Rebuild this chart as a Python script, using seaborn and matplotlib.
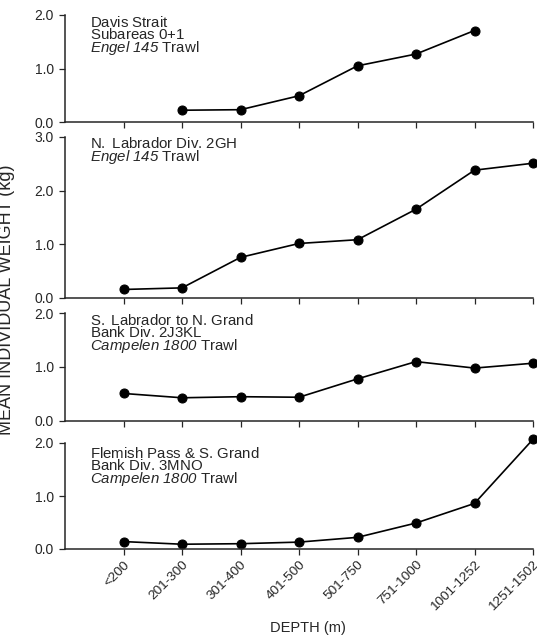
import numpy as np
import pandas as pd
import matplotlib
matplotlib.use("Agg")
import matplotlib.pyplot as plt
import seaborn as sns

# Depth strata (m)
depth_classes = ["<200", "201-300", "301-400", "401-500", "501-750",
                 "751-1000", "1001-1252", "1251-1502"]

# Mean individual weight (kg) by depth stratum for each survey area
davis_strait = [np.nan, 0.22, 0.23, 0.49, 1.05, 1.27, 1.71, np.nan]
n_labrador = [0.15, 0.18, 0.75, 1.01, 1.08, 1.65, 2.38, 2.51]
s_labrador = [0.51, 0.43, 0.45, 0.44, 0.78, 1.10, 0.98, 1.07]
flemish_pass = [0.14, 0.09, 0.10, 0.13, 0.22, 0.49, 0.86, 2.07]

# Area captions. Every line carries a mathtext part so that all lines share
# the same metrics; \mathbf is mapped to the italic face for the gear names.
panel_titles = [
    r"$\mathrm{Davis}$ Strait" "\n"
    r"$\mathrm{Subareas}$ 0+1" "\n"
    r"$\mathbf{Engel\ 145}$ Trawl",
    r"$\mathrm{N.}$ Labrador Div. 2GH" "\n"
    r"$\mathbf{Engel\ 145}$ Trawl",
    r"$\mathrm{S.}$ Labrador to N. Grand" "\n"
    r"$\mathrm{Bank}$ Div. 2J3KL" "\n"
    r"$\mathbf{Campelen\ 1800}$ Trawl",
    r"$\mathrm{Flemish}$ Pass & S. Grand" "\n"
    r"$\mathrm{Bank}$ Div. 3MNO" "\n"
    r"$\mathbf{Campelen\ 1800}$ Trawl",
]
y_ticks = [[0, 1, 2], [0, 1, 2, 3], [0, 1, 2], [0, 1, 2]]
y_limits = [(0, 2), (0, 3), (0, 2), (0, 2)]

sns.set_style("ticks")
plt.rcParams["font.family"] = ["Liberation Sans", "DejaVu Sans"]
plt.rcParams["mathtext.fontset"] = "custom"
plt.rcParams["mathtext.rm"] = "Liberation Sans"
plt.rcParams["mathtext.it"] = "Liberation Sans:italic"
plt.rcParams["mathtext.bf"] = "Liberation Sans:italic"

W, H = 537, 636
fig = plt.figure(figsize=(W / 100, H / 100), dpi=100)

# Panel extents in pixels: (top, bottom)
extents = [(15, 122), (137, 297.5), (313, 421), (443, 549)]
left_px, right_px = 65, 533
# Baseline of the last caption line in each panel
last_baselines = [52, 161, 350, 483]

series = [davis_strait, n_labrador, s_labrador, flemish_pass]
for i, vals in enumerate(series):
    top, bot = extents[i]
    ax = fig.add_axes([left_px / W, 1 - bot / H, (right_px - left_px) / W, (bot - top) / H])
    df = pd.DataFrame({"pos": np.arange(len(depth_classes)), "weight": vals})
    sns.lineplot(data=df, x="pos", y="weight", ax=ax, color="black",
                 marker="o", markersize=6.5, markeredgecolor="black",
                 linewidth=1.2)
    for ln in ax.lines:
        ln.set_clip_on(False)
    ax.set_xlim(-1, 7)
    ax.set_ylim(*y_limits[i])
    ax.set_yticks(y_ticks[i])
    ax.set_yticklabels([f"{t:.1f}" for t in y_ticks[i]], fontsize=10)
    ax.set_xticks(np.arange(len(depth_classes)))
    ax.set_xlabel("")
    ax.set_ylabel("")
    sns.despine(ax=ax)
    for s in ("left", "bottom"):
        ax.spines[s].set_linewidth(1.1)
    ax.tick_params(axis="both", direction="out", length=4, width=0.9, pad=4)
    if i < 3:
        ax.set_xticklabels([])
    else:
        ax.set_xticklabels(depth_classes, rotation=45, ha="right",
                           rotation_mode="anchor", fontsize=9.7)
        ax.tick_params(axis="x", pad=3)
    fig.text(90 / W, 1 - last_baselines[i] / H, panel_titles[i], fontsize=10.8,
             va="baseline", ha="left", linespacing=0.77)

fig.text(308 / W, 1 - 628 / H, "DEPTH (m)", fontsize=10.5, ha="center", va="center")
fig.text(7 / W, 1 - 300 / H, "MEAN INDIVIDUAL WEIGHT (kg)", fontsize=13,
         rotation=90, ha="center", va="center")

fig.savefig("out.png", dpi=100)
